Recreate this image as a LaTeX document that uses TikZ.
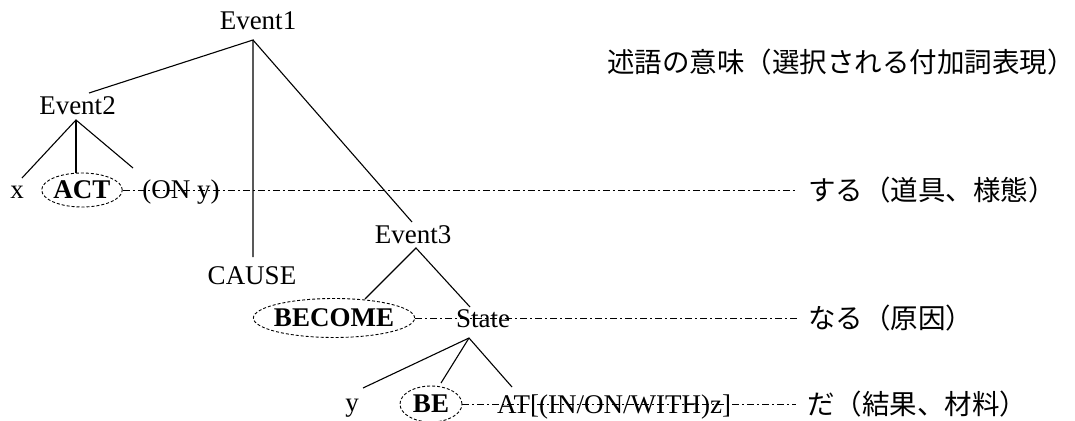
\documentclass[tikz,border=0pt]{standalone}
\usepackage{fontspec}
\setmainfont{Liberation Serif}
\newfontfamily\jfont{Noto Sans CJK JP}
\usetikzlibrary{shapes.geometric}
\begin{document}
\begin{tikzpicture}[x=1pt,y=-1pt,
  lbl/.style={inner sep=0pt, anchor=base, font=\fontsize{27}{32}\selectfont},
  jlbl/.style={inner sep=0pt, anchor=west, font=\fontsize{27.5}{32}\selectfont\jfont},
  oval/.style={ellipse, draw, dash pattern=on 3pt off 2pt, line width=0.9pt, inner sep=0pt, font=\fontsize{27}{32}\selectfont\bfseries},
  branch/.style={line width=1.1pt},
  guide/.style={line width=0.9pt, dash pattern=on 7pt off 3pt on 2pt off 3pt, shorten >=11pt}]
\useasboundingbox (0,0) rectangle (1075,420);

% labels
\node[lbl] (e1) at (258,30) {Event1};
\node[lbl] (e2) at (77.5,114) {Event2};
\node[lbl] (x) at (17,198) {x};
\node[oval, minimum width=80pt, minimum height=34pt] (act) at (82,190) {ACT};
\node[lbl] (ony) at (181,198) {(ON y)};
\node[lbl] (cause) at (252,284) {CAUSE};
\node[lbl] (e3) at (413,243) {Event3};
\node[oval, inner xsep=-3pt, minimum height=39pt] (become) at (334,318) {BECOME};
\node[lbl] (state) at (483,327) {State};
\node[lbl] (y) at (352,411) {y};
\node[oval, minimum width=62pt, minimum height=36pt] (be) at (431,404) {BE};
\node[lbl, anchor=base west] (at) at (497,413) {AT[(IN/ON/WITH)z]};

\node[jlbl] (title) at (607,62) {述語の意味（選択される付加詞表現）};
\node[jlbl] (suru) at (808,190) {する（道具、様態）};
\node[jlbl] (naru) at (808,318) {なる（原因）};
\node[jlbl] (da) at (807,404) {だ（結果、材料）};

% tree apexes and ends
\coordinate (e1a) at (253,40);
\coordinate (e2t) at (89,93);
\coordinate (causet) at (253,257);
\coordinate (e3t) at (412,222);
\coordinate (e2a) at (76,120);
\coordinate (xt) at (22,178);
\coordinate (actt) at (76,173);
\coordinate (onyt) at (133,168);
\coordinate (e3a) at (416,248);
\coordinate (becomet) at (365,299);
\coordinate (statet) at (470,307);
\coordinate (sta) at (469,338);
\coordinate (yt) at (363,388);
\coordinate (bet) at (441,383);
\coordinate (att) at (512,387);

\draw[branch] (e2t) -- (e1a) -- (causet);
\draw[branch] (e1a) -- (e3t);
\draw[branch] (xt) -- (e2a) -- (onyt);
\draw[branch] (e2a) -- (actt);
\draw[branch] (becomet) -- (e3a) -- (statet);
\draw[branch] (yt) -- (sta) -- (att);
\draw[branch] (sta) -- (bet);

% guide lines
\draw[guide] (act.east) -- (suru.west);
\draw[guide] (become.east) -- (naru.west);
\draw[guide] (be.east) -- (da.west);
\end{tikzpicture}
\end{document}
